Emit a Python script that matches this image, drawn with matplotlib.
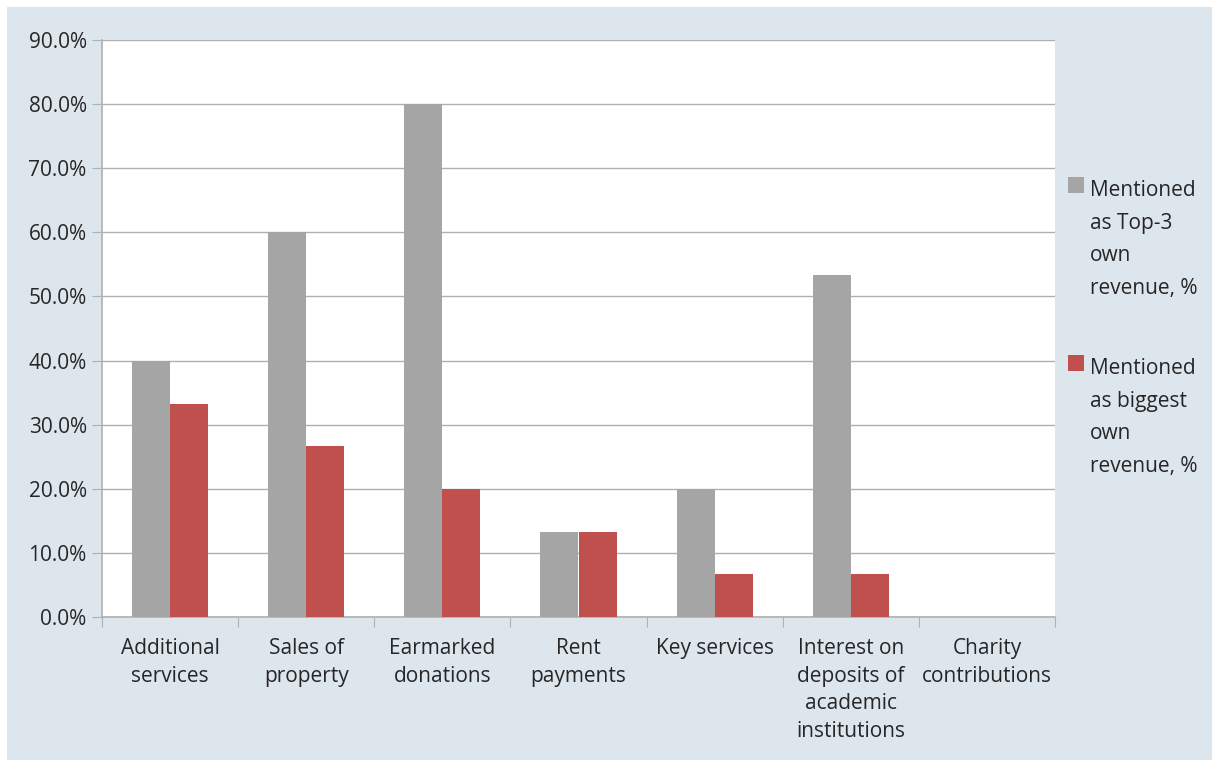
import matplotlib.pyplot as plt
import numpy as np
from matplotlib.patches import Rectangle
from matplotlib.ticker import PercentFormatter

# Data
categories = ['Additional\nservices', 'Sales of\nproperty', 'Earmarked\ndonations',
              'Rent\npayments', 'Key services',
              'Interest on\ndeposits of\nacademic\ninstitutions', 'Charity\ncontributions']
top3 = [40.0, 60.0, 80.0, 13.3, 20.0, 53.3, 0.0]
biggest = [33.3, 26.7, 20.0, 13.3, 6.7, 6.7, 0.0]
series_labels = ['Mentioned\nas Top-3\nown\nrevenue, %', 'Mentioned\nas biggest\nown\nrevenue, %']

grey = '#a5a5a5'
red = '#c0504d'
bg = '#dee6ed'
text_color = '#262626'

plt.rcParams['font.family'] = ['Open Sans', 'DejaVu Sans']

fig = plt.figure(figsize=(12.12, 7.6), dpi=100)
fig.patch.set_facecolor('white')
# light blue panel behind the chart, white margin at top/left
fig.patches.append(Rectangle((7 / 1212, 0), 1, 1 - 7 / 760, transform=fig.transFigure,
                             facecolor=bg, edgecolor='none', zorder=-10))

ax = fig.add_axes([102 / 1212, 1 - 617 / 760, (1055 - 102) / 1212, (617 - 40) / 760])
ax.set_facecolor('white')

x = np.arange(len(categories))
w = 0.28
ax.bar(x - w / 2, top3, width=w, color=grey, zorder=3)
ax.bar(x + w / 2, biggest, width=w, color=red, zorder=3)

ax.set_xlim(-0.5, len(categories) - 0.5)
ax.set_ylim(0, 90)
ax.set_yticks(np.arange(0, 91, 10))
ax.yaxis.set_major_formatter(PercentFormatter(decimals=1))
ax.grid(axis='y', color='#b0b0b0', linewidth=1, zorder=0)

for s in ['top', 'right']:
    ax.spines[s].set_visible(False)
for s in ['left', 'bottom']:
    ax.spines[s].set_color('#b0b0b0')
    ax.spines[s].set_linewidth(1.2)

ax.set_xticks(np.arange(-0.5, len(categories), 1))
ax.set_xticklabels([])
ax.set_xticks(x, minor=True)
ax.set_xticklabels(categories, minor=True, fontsize=15, color=text_color, linespacing=1.42, va='top')
ax.tick_params(axis='x', which='major', length=7, color='#b0b0b0', direction='out')
ax.tick_params(axis='x', which='minor', length=0, pad=15)
ax.tick_params(axis='y', length=7, color='#b0b0b0', labelsize=15, labelcolor=text_color, pad=4)

# legend drawn by hand so the swatch sits beside the first line
for i, (lab, col) in enumerate(zip(series_labels, [grey, red])):
    ytop = 1 - (177 + i * 178) / 760
    fig.patches.append(Rectangle((1068 / 1212, ytop - 16 / 760), 16 / 1212, 16 / 760,
                                 transform=fig.transFigure, facecolor=col, edgecolor='none'))
    fig.text(1090 / 1212, ytop - 3 / 760, lab, fontsize=15, color=text_color,
             va='top', ha='left', linespacing=1.72)

fig.savefig('out.png', dpi=100)
